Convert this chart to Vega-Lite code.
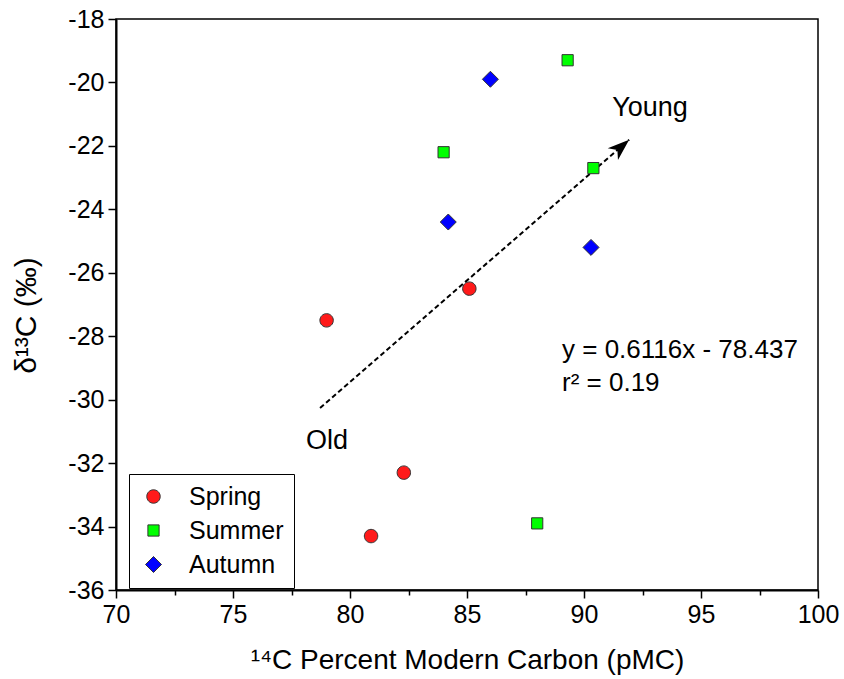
{
  "$schema": "https://vega.github.io/schema/vega-lite/v6.json",
  "width": 702,
  "height": 571,
  "autosize": "none",
  "padding": {"left": 116, "top": 19, "right": 26, "bottom": 89},
  "background": "white",
  "config": {
    "font": "Liberation Sans",
    "view": {"stroke": "black", "strokeWidth": 1.5}
  },
  "datasets": {
    "pts": [
      {"season": "Spring", "pmc": 79.0, "d13c": -27.5},
      {"season": "Spring", "pmc": 85.1, "d13c": -26.5},
      {"season": "Spring", "pmc": 82.3, "d13c": -32.3},
      {"season": "Spring", "pmc": 80.9, "d13c": -34.3},
      {"season": "Summer", "pmc": 89.3, "d13c": -19.3},
      {"season": "Summer", "pmc": 84.0, "d13c": -22.2},
      {"season": "Summer", "pmc": 90.4, "d13c": -22.7},
      {"season": "Summer", "pmc": 88.0, "d13c": -33.9},
      {"season": "Autumn", "pmc": 86.0, "d13c": -19.9},
      {"season": "Autumn", "pmc": 84.2, "d13c": -24.4},
      {"season": "Autumn", "pmc": 90.3, "d13c": -25.2}
    ],
    "arrow": [
      {"pmc": 78.72, "d13c": -30.26},
      {"pmc": 91.93, "d13c": -21.81}
    ],
    "head": [
      {"pmc": 91.93, "d13c": -21.81}
    ],
    "labels": [
      {"pmc": 92.82, "d13c": -20.8, "label": "Young"},
      {"pmc": 79.02, "d13c": -31.3, "label": "Old"}
    ],
    "eq": [
      {"pmc": 89.06, "d13c": -28.43, "label": "y = 0.6116x - 78.437"},
      {"pmc": 89.06, "d13c": -29.47, "label": "r² = 0.19"}
    ]
  },
  "layer": [
    {
      "data": {"name": "arrow"},
      "mark": {"type": "line", "color": "black", "strokeDash": [5, 3], "strokeWidth": 2},
      "encoding": {
        "x": {"field": "pmc", "type": "quantitative"},
        "y": {"field": "d13c", "type": "quantitative"}
      }
    },
    {
      "data": {"name": "head"},
      "mark": {"type": "point", "shape": "M0,0 L1.3,3.6 L0,2.6 L-1.3,3.6 Z", "filled": true, "color": "black", "size": 144, "angle": 49, "opacity": 1},
      "encoding": {
        "x": {"field": "pmc", "type": "quantitative"},
        "y": {"field": "d13c", "type": "quantitative"}
      }
    },
    {
      "data": {"name": "pts"},
      "mark": {"type": "point", "filled": true, "opacity": 1, "stroke": "#333", "strokeWidth": 1, "size": 256},
      "encoding": {
        "x": {
          "field": "pmc", "type": "quantitative",
          "scale": {"domain": [70, 100], "nice": false, "zero": false},
          "axis": {
            "title": "¹⁴C Percent Modern Carbon (pMC)",
            "values": [70, 72.5, 75, 77.5, 80, 82.5, 85, 87.5, 90, 92.5, 95, 97.5, 100],
            "labelExpr": "datum.value % 5 === 0 ? '' + datum.value : ''",
            "tickSize": {"condition": {"test": "datum.value % 5 !== 0", "value": 5}, "value": 8},
            "tickColor": "black", "tickWidth": 1.5,
            "domainColor": "black", "domainWidth": 2,
            "grid": false,
            "labelFontSize": 25, "labelColor": "black", "labelPadding": 4,
            "titleFontSize": 28, "titleFontWeight": "normal", "titleColor": "black", "titlePadding": 19,
            "labelFlush": false
          }
        },
        "y": {
          "field": "d13c", "type": "quantitative",
          "scale": {"domain": [-36, -18], "nice": false, "zero": false},
          "axis": {
            "title": "δ¹³C (‰)",
            "values": [-36, -35, -34, -33, -32, -31, -30, -29, -28, -27, -26, -25, -24, -23, -22, -21, -20, -19, -18],
            "labelExpr": "datum.value % 2 === 0 ? '' + datum.value : ''",
            "tickSize": {"condition": {"test": "datum.value % 2 !== 0", "value": 5}, "value": 8},
            "tickColor": "black", "tickWidth": 1.5,
            "domainColor": "black", "domainWidth": 2,
            "grid": false,
            "labelFontSize": 25, "labelColor": "black", "labelPadding": 4,
            "titleFontSize": 30, "titleFontWeight": "normal", "titleColor": "black", "titlePadding": 26,
            "titleY": 296,
            "labelFlush": false
          }
        },
        "color": {
          "field": "season", "type": "nominal",
          "scale": {"domain": ["Spring", "Summer", "Autumn"], "range": ["#ff1a1a", "#00ff00", "#0000ff"]},
          "legend": {
            "title": null, "orient": "none", "legendX": 13, "legendY": 455,
            "strokeColor": "black", "padding": 10, "fillColor": "white",
            "labelFontSize": 25, "labelColor": "black", "rowPadding": 8,
            "symbolSize": 256, "symbolStrokeColor": "#333", "symbolStrokeWidth": 1,
            "labelOffset": 23, "symbolOffset": 2,
            "labelExpr": "datum.label + '\u2003'"
          }
        },
        "shape": {
          "field": "season", "type": "nominal",
          "scale": {
            "domain": ["Spring", "Summer", "Autumn"],
            "range": [
              "M0.84,0 A0.84,0.84 0 1,1 -0.84,0 A0.84,0.84 0 1,1 0.84,0 Z",
              "M-0.7,-0.7 L0.7,-0.7 L0.7,0.7 L-0.7,0.7 Z",
              "M-1,0 L0,-1 L1,0 L0,1 Z"
            ]
          },
          "legend": {"title": null, "labelExpr": "datum.label + '\u2003'"}
        }
      }
    },
    {
      "data": {"name": "labels"},
      "mark": {"type": "text", "fontSize": 27, "color": "black", "align": "center", "baseline": "middle"},
      "encoding": {
        "x": {"field": "pmc", "type": "quantitative"},
        "y": {"field": "d13c", "type": "quantitative"},
        "text": {"field": "label"}
      }
    },
    {
      "data": {"name": "eq"},
      "mark": {"type": "text", "fontSize": 26, "color": "black", "align": "left", "baseline": "middle"},
      "encoding": {
        "x": {"field": "pmc", "type": "quantitative"},
        "y": {"field": "d13c", "type": "quantitative"},
        "text": {"field": "label"}
      }
    }
  ]
}
